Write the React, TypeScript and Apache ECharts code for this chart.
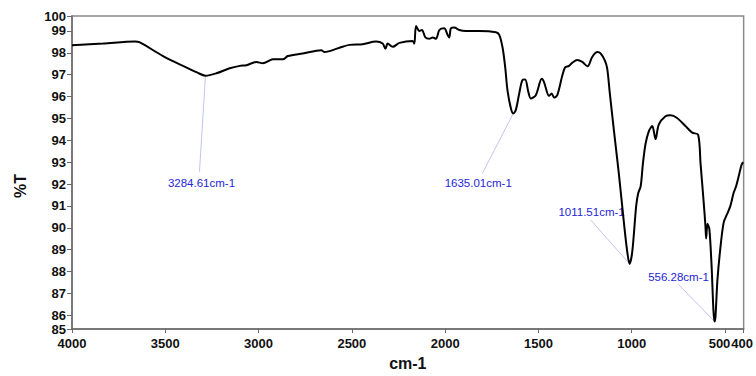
import React, { useEffect, useRef } from "react";
import * as echarts from "echarts";

// ---- data ----
const wavenumbers = [
  4000, 3833, 3663, 3636, 3512, 3405, 3330, 3284.61, 3226, 3155, 3101, 3065, 3012, 2977, 2923, 2870,
  2843, 2763, 2664, 2647, 2566, 2513, 2442, 2370, 2335, 2320, 2308, 2281, 2245, 2174, 2165, 2156,
  2138, 2124, 2106, 2085, 2067, 2049, 2031, 2005, 1987, 1978, 1969, 1951, 1924, 1889, 1817, 1728,
  1710, 1692, 1678, 1666, 1648, 1635.01, 1621, 1603, 1586, 1571, 1554, 1541, 1514, 1482, 1470, 1443,
  1429, 1416, 1399, 1372, 1357, 1336, 1318, 1292, 1265, 1237, 1211, 1184, 1167, 1143, 1131, 1118,
  1095, 1069, 1042, 1024, 1011.51, 997, 976, 965, 952, 940, 926, 908, 890, 872, 855, 819, 792, 757,
  712, 676, 644, 631, 614, 605, 601, 594, 584, 573, 556.28, 551, 541, 525, 507, 489, 471, 454, 441,
  427, 412, 403,
];
const transmittance = [
  98.34, 98.42, 98.52, 98.47, 97.85, 97.4, 97.1, 96.95, 97.06, 97.29, 97.4, 97.43, 97.58, 97.52, 97.7, 97.7,
  97.85, 97.97, 98.12, 98.03, 98.23, 98.36, 98.39, 98.51, 98.42, 98.18, 98.42, 98.27, 98.45, 98.54, 98.42, 99.22,
  99.0, 99.04, 98.7, 98.64, 98.7, 98.64, 99.04, 99.12, 98.82, 98.7, 99.12, 99.15, 99.04, 99.0, 99.0, 98.94,
  98.82, 98.23, 97.33, 96.29, 95.47, 95.22, 95.39, 96.14, 96.75, 96.78, 96.21, 95.91, 96.06, 96.81, 96.66, 96.03,
  96.14, 95.95, 96.06, 96.96, 97.33, 97.4, 97.55, 97.67, 97.58, 97.38, 97.82, 98.03, 97.97, 97.63, 97.26, 96.2,
  94.42, 92.48, 90.25, 88.91, 88.35, 88.91, 91.0, 91.59, 91.89, 92.93, 93.83, 94.42, 94.65, 94.05, 94.72, 95.1, 95.14, 95.02,
  94.65, 94.35, 94.25, 92.93, 91.14, 90.1, 89.51, 90.18, 89.95, 88.46, 85.72, 85.93, 87.56, 89.06, 90.25, 90.62, 91.0, 91.59, 91.89,
  92.34, 92.86, 93.0,
];

const peakWavenumbers = [3284.61, 1635.01, 1011.51, 556.28];
const peakValues = [96.95, 95.22, 88.35, 85.72];
const peakLabels = ["3284.61cm-1", "1635.01cm-1", "1011.51cm-1", "556.28cm-1"];

const X_MIN = 400;
const X_MAX = 4000;
const xTicks = [4000, 3500, 3000, 2500, 2000, 1500, 1000, 500, 400];
const xLabelsMain = [4000, 3500, 3000, 2500, 2000, 1500, 1000, 500];
const xLabelsEnd = [400];
const Y_MIN = 85.37;
const Y_MAX = 99.68;
const yTicks = [Y_MIN, 86, 87, 88, 89, 90, 91, 92, 93, 94, 95, 96, 97, 98, 99, Y_MAX];

// ---- layout (pixel offsets of leader-line end and label centre from each peak) ----
const leaderEnds = [
  [-6, 96],
  [-31, 60],
  [-39, -44],
  [-36, -37],
];
const labelCenters = [
  [-4, 107],
  [-35, 69],
  [-38, -52],
  [-36, -44],
];

const FONT = "'Liberation Sans', Arial, Helvetica, sans-serif";

export default function App() {
  const ref = useRef<HTMLDivElement>(null);
  useEffect(() => {
    if (!ref.current) return;
    const chart = echarts.init(ref.current, undefined, { renderer: "svg" });
    const data = wavenumbers.map((w, i) => [w, transmittance[i]]);
    const labelStyle = {
      fontFamily: FONT,
      fontSize: 13,
      fontWeight: "bold",
      color: "#111",
    };
    chart.setOption({
      animation: false,
      backgroundColor: "#ffffff",
      grid: {
        left: 72,
        right: 11,
        top: 16,
        bottom: 40,
        show: true,
        borderColor: "#8a8a8a",
        borderWidth: 1.5,
      },
      xAxis: [
        {
          type: "value",
          min: X_MIN,
          max: X_MAX,
          inverse: true,
          name: "cm-1",
          nameLocation: "middle",
          nameGap: 22,
          nameTextStyle: { fontFamily: FONT, fontSize: 16, color: "#111", fontWeight: "bold" },
          splitLine: { show: false },
          axisLine: { show: true, lineStyle: { color: "#6a6a6a", width: 1.5 } },
          axisTick: { show: true, length: 4, customValues: xTicks, lineStyle: { color: "#6a6a6a" } },
          axisLabel: {
            ...labelStyle,
            customValues: xLabelsMain,
            margin: 8,
            hideOverlap: false,
            showMinLabel: true,
            formatter: (v: number) => (v === 500 ? "{s|500}" : String(v)),
            rich: { s: { ...labelStyle, padding: [0, 11, 0, 0] } },
          },
        },
        {
          type: "value",
          min: X_MIN,
          max: X_MAX,
          inverse: true,
          position: "bottom",
          splitLine: { show: false },
          axisLine: { show: false },
          axisTick: { show: false },
          axisLabel: {
            ...labelStyle,
            customValues: xLabelsEnd,
            margin: 8,
            showMaxLabel: true,
            formatter: (v: number) => "{e|" + v + "}",
            rich: { e: { ...labelStyle, padding: [0, 3, 0, 0] } },
          },
        },
      ],
      yAxis: {
        type: "value",
        min: Y_MIN,
        max: Y_MAX,
        splitLine: { show: false },
        axisLine: { show: true, lineStyle: { color: "#6a6a6a", width: 1.5 } },
        axisTick: { show: true, length: 5, customValues: yTicks, lineStyle: { color: "#6a6a6a" } },
        axisLabel: {
          ...labelStyle,
          customValues: yTicks,
          margin: 6,
          showMinLabel: true,
          showMaxLabel: true,
          formatter: (v: number) => String(Math.round(v)),
        },
      },
      series: [
        {
          type: "line",
          data,
          xAxisIndex: 0,
          showSymbol: false,
          smooth: 0.3,
          lineStyle: { color: "#000", width: 2 },
          z: 3,
        },
      ],
    });

    const graphics: any[] = [
      {
        type: "text",
        x: 20,
        y: 186,
        rotation: Math.PI / 2,
        style: {
          text: "%T",
          fontFamily: FONT,
          fontSize: 16,
          fontWeight: "bold",
          fill: "#111",
          align: "center",
          verticalAlign: "middle",
        },
      },
    ];
    peakWavenumbers.forEach((w, i) => {
      const p = chart.convertToPixel({ xAxisIndex: 0, yAxisIndex: 0 }, [w, peakValues[i]]) as number[];
      graphics.push({
        type: "line",
        z: 1,
        shape: { x1: p[0], y1: p[1], x2: p[0] + leaderEnds[i][0], y2: p[1] + leaderEnds[i][1] },
        style: { stroke: "#c4c4ee", lineWidth: 1 },
      });
      graphics.push({
        type: "text",
        z: 2,
        x: p[0] + labelCenters[i][0],
        y: p[1] + labelCenters[i][1],
        style: {
          text: peakLabels[i],
          fontFamily: FONT,
          fontSize: 11.5,
          fill: "#2525d8",
          align: "center",
          verticalAlign: "middle",
        },
      });
    });
    chart.setOption({ graphic: graphics });
    return () => chart.dispose();
  }, []);
  return (
    <div
      ref={ref}
      style={{ position: "fixed", left: 0, top: 0, width: 756, height: 376 }}
    />
  );
}
